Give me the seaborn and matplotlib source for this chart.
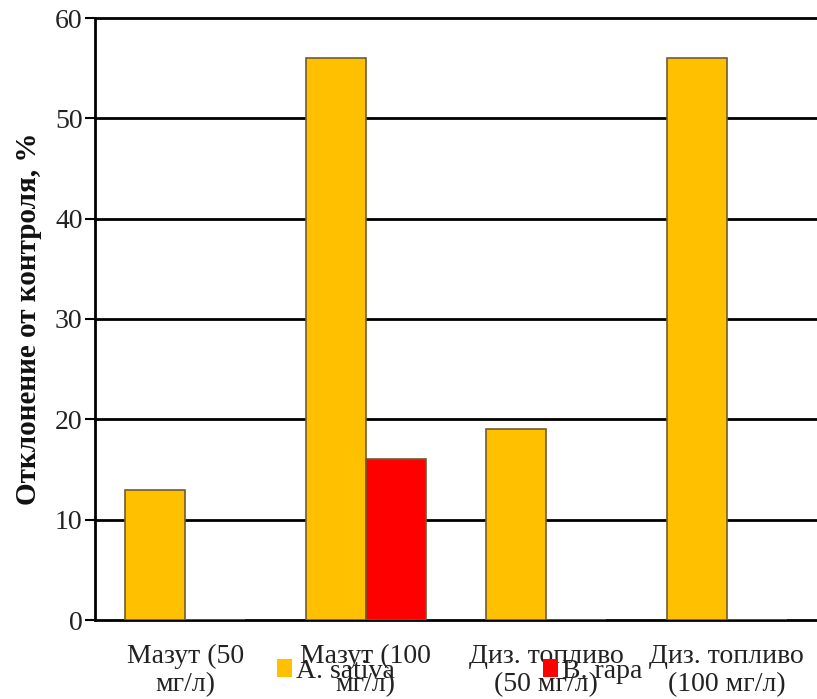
import matplotlib
matplotlib.use("Agg")
import matplotlib.pyplot as plt
from matplotlib.patches import Patch
import pandas as pd
import seaborn as sns

# Treatment groups and the deviation from control (%) for each species
categories = ["Мазут (50\nмг/л)", "Мазут (100\nмг/л)",
              "Диз. топливо\n(50 мг/л)", "Диз. топливо\n(100 мг/л)"]
species = ["A. sativa", "B. rapa"]
a_sativa = [13, 56, 19, 56]
b_rapa = [0, 16, 0, 0]
y_ticks = [0, 10, 20, 30, 40, 50, 60]
y_label = "Отклонение от контроля, %"

colors = {"A. sativa": "#FFC000", "B. rapa": "#FF0000"}

df = pd.DataFrame({
    "group": categories * 2,
    "species": [species[0]] * len(categories) + [species[1]] * len(categories),
    "value": a_sativa + b_rapa,
})

sns.set_theme(style="white")
plt.rcParams["font.family"] = ["Liberation Serif", "DejaVu Serif"]

fig = plt.figure(figsize=(8.17, 6.99), dpi=100)
ax = fig.add_axes([95 / 817, 79 / 699, 722 / 817, 602 / 699])

sns.barplot(data=df, x="group", y="value", hue="species", order=categories,
            hue_order=species, palette=colors, width=0.665, saturation=1,
            edgecolor="#6e5c33", linewidth=1.2, legend=False, ax=ax, zorder=3)

ax.set_ylim(0, 60)
ax.set_yticks(y_ticks)
ax.set_xlim(-0.5, len(categories) - 0.5)
ax.set_axisbelow(True)
ax.yaxis.grid(True, color="black", linewidth=2)
ax.xaxis.grid(False)
for gl in ax.get_ygridlines():
    gl.set_clip_on(False)

for side in ["top", "right", "bottom"]:
    ax.spines[side].set_visible(False)
ax.spines["left"].set_color("black")
ax.spines["left"].set_linewidth(2)

ax.tick_params(axis="y", which="major", left=True, length=7, width=1.5,
               color="black", pad=2, labelsize=20, labelcolor="#222222")
ax.tick_params(axis="x", length=0, pad=17, labelsize=20, labelcolor="#222222")
for lbl in ax.get_xticklabels():
    lbl.set_linespacing(1.2)

ax.set_xlabel("")
ax.set_ylabel(y_label, fontsize=21, fontweight="bold", color="#111111", labelpad=9)

handles = [Patch(facecolor=colors[s], edgecolor="none") for s in species]
fig.legend(handles, species, loc="center left",
           bbox_to_anchor=(277 / 817, 1 - 671 / 699), ncol=2, frameon=False,
           fontsize=20, handlelength=0.55, handleheight=0.62, handletextpad=0.15,
           columnspacing=5.3, borderpad=0, borderaxespad=0, labelcolor="#222222")

fig.savefig("out.png", dpi=100)
